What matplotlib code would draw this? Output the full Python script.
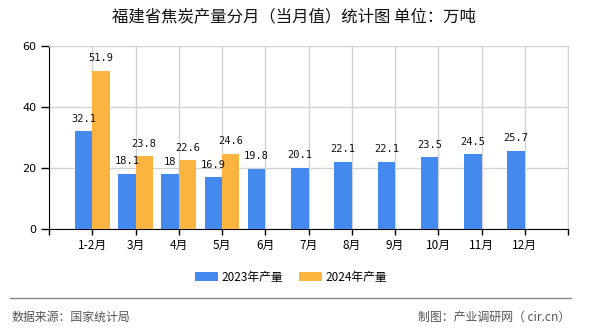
import numpy as np
import matplotlib.pyplot as plt
from matplotlib.lines import Line2D

plt.rcParams['font.family'] = ['Noto Sans CJK SC', 'DejaVu Sans']

months = ['1-2月', '3月', '4月', '5月', '6月', '7月', '8月', '9月', '10月', '11月', '12月']
prod_2023 = [32.1, 18.1, 18, 16.9, 19.8, 20.1, 22.1, 22.1, 23.5, 24.5, 25.7]
prod_2024 = [51.9, 23.8, 22.6, 24.6]

blue = '#448aee'
orange = '#fcb441'

fig = plt.figure(figsize=(5.9, 3.3), dpi=100)
ax = fig.add_axes([49/590, 1-229/330, (568-49)/590, (229-46)/330])

x = np.arange(1, len(months)+1)
w = 0.4
b1 = ax.bar(x[:len(prod_2023)] - w/2, prod_2023, w, color=blue, label='2023年产量', zorder=3)
b2 = ax.bar(x[:len(prod_2024)] + w/2, prod_2024, w, color=orange, label='2024年产量', zorder=3)

# value labels above bars
for bars, vals in [(b1, prod_2023), (b2, prod_2024)]:
    for r, v in zip(bars, vals):
        ax.annotate(f'{v:g}', (r.get_x() + r.get_width()/2, v), xytext=(0, 9),
                    textcoords='offset points', ha='center', va='center',
                    fontsize=7.5, family='DejaVu Sans Mono', color='#111111', zorder=4)

ax.set_xlim(0, 12)
ax.set_ylim(0, 60)
ax.set_yticks([0, 20, 40, 60])
ax.set_xticks(np.arange(0, 13))
ax.set_xticklabels([''] + months + [''])
ax.tick_params(axis='x', length=4, width=1, labelsize=8.5, pad=3)
ax.tick_params(axis='y', length=6, width=1, labelsize=8, pad=3)
for lab in ax.get_yticklabels():
    lab.set_family('DejaVu Sans')

ax.grid(True, color='#d3d3d3', linewidth=1, zorder=0)
ax.set_axisbelow(True)
ax.spines['left'].set_color('black')
ax.spines['bottom'].set_color('black')
ax.spines['top'].set_color('#d3d3d3')
ax.spines['right'].set_color('#d3d3d3')

fig.text(294/590, 1-17/330, '福建省焦炭产量分月（当月值）统计图 单位：万吨',
         ha='center', va='center', fontsize=11.8, color='#111111')

fig.legend(handles=[b1, b2], loc='center', bbox_to_anchor=(291/590, 1-277/330),
           ncol=2, frameon=False, fontsize=8.5, handlelength=1.9, handleheight=0.7,
           handletextpad=0.3, columnspacing=1.4)

fig.add_artist(Line2D([10/590, 571/590], [1-298/330, 1-298/330],
                      transform=fig.transFigure, color='#888888', linewidth=1))
fig.text(12/590, 1-317/330, '数据来源：国家统计局', ha='left', va='center',
         fontsize=8.6, color='#555555')
fig.text(570/590, 1-317/330, '制图：产业调研网（ cir.cn）', ha='right', va='center',
         fontsize=8.6, color='#555555')

plt.savefig('out.png', dpi=100)
